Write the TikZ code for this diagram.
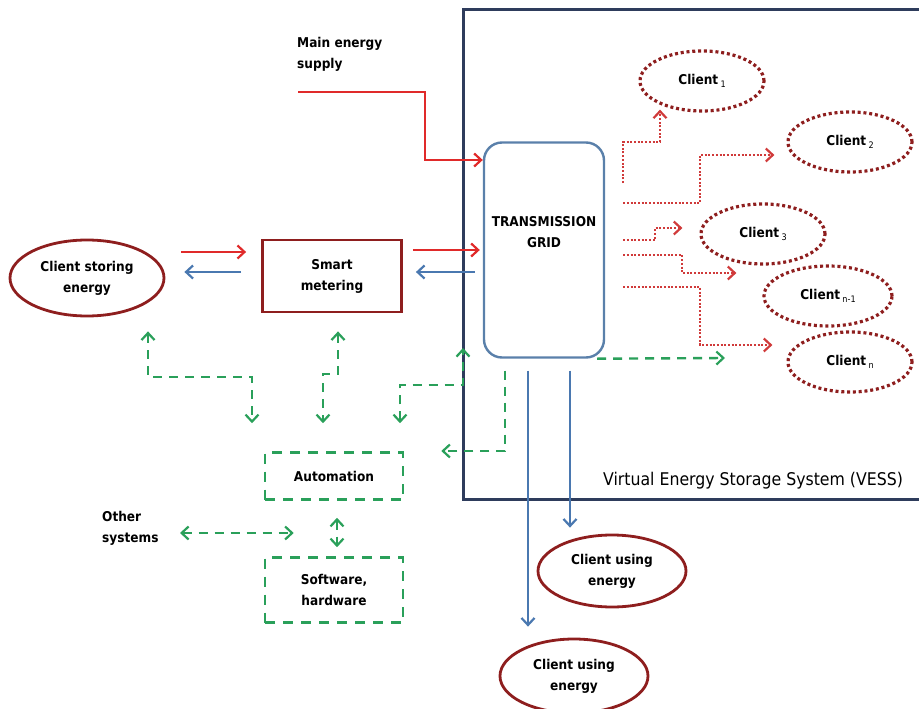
\documentclass[tikz,border=0pt]{standalone}
\usepackage{fontspec}
\setmainfont{DejaVu Sans Condensed}
\usetikzlibrary{arrows.meta,shapes.geometric,calc}
\definecolor{navy}{HTML}{2E3C5C}
\definecolor{gridblue}{HTML}{5A80AA}
\definecolor{rred}{HTML}{E02A2A}
\definecolor{dotred}{HTML}{D03A3A}
\definecolor{bblue}{HTML}{4A78B0}
\definecolor{ggreen}{HTML}{2AA05A}
\definecolor{dred}{HTML}{8E1E1E}
\tikzset{
  lbl/.style={font=\bfseries\fontsize{13.5}{21}\selectfont, align=center, text=black},
  solidell/.style={ellipse, draw=dred, line width=2.8pt, inner sep=0pt, lbl},
  dotell/.style={ellipse, draw=dred, line width=3.2pt, dash pattern=on 3pt off 2.8pt, inner sep=0pt, lbl},
  meterbox/.style={rectangle, draw=dred, line width=2.8pt, inner sep=0pt, lbl},
  gbox/.style={rectangle, draw=ggreen, line width=2.6pt, dash pattern=on 10pt off 8pt, inner sep=0pt, lbl},
  barbtip/.tip={Straight Barb[length=7pt,width=13pt,line width=2.2pt]},
  rarr/.style={draw=rred, line width=2.2pt, -{barbtip}},
  barr/.style={draw=bblue, line width=2.2pt, -{barbtip}},
  dotarr/.style={draw=dotred, line width=2.2pt, dash pattern=on 2pt off 1.7pt, -{barbtip}},
  garr/.style={draw=ggreen, line width=2.4pt, dash pattern=on 9pt off 7pt, -{barbtip}},
  gdbl/.style={draw=ggreen, line width=2.4pt, dash pattern=on 9pt off 7pt, {barbtip}-{barbtip}},
}
\newcommand{\sub}[1]{\,\raisebox{-3pt}{\mdseries\fontsize{9}{9}\selectfont #1}}
\begin{document}
\begin{tikzpicture}[x=1pt,y=-1pt]
\useasboundingbox (0,0) rectangle (919,709);
% VESS frame
\draw[navy, line width=3pt] (935,10) -- (463,10) -- (463,499) -- (935,499);
\node[anchor=base west, inner sep=0pt, font=\fontsize{17.5}{20}\selectfont] (vess) at (603,485) {Virtual Energy Storage System (VESS)};
% grid
\node[rectangle, rounded corners=18pt, draw=gridblue, line width=2.4pt, minimum width=120pt, minimum height=215pt, inner sep=0pt] (grid) at (544,250) {};
\node[lbl] (gridtxt) at (544,232) {TRANSMISSION\\GRID};
% main supply
\node[lbl, anchor=north west, align=left, inner sep=0pt] (main) at (297,37) {Main energy\\supply};
\coordinate (ms) at (298,92);
\draw[rarr] (ms) -| (425,160) -- (grid.west |- 0,160);
% client storing and smart metering
\node[solidell, minimum width=154pt, minimum height=76pt] (storing) at (87,278) {Client storing\\energy};
\node[meterbox, minimum width=139pt, minimum height=72pt] (smart) at (332,276) {Smart\\metering};
\draw[rarr] ([xshift=16pt]storing.east |- 0,252) -- ([xshift=-15pt]smart.west |- 0,252);
\draw[barr] ([xshift=-20pt]smart.west |- 0,272) -- ([xshift=19pt]storing.east |- 0,272);
\draw[rarr] ([xshift=10pt]smart.east |- 0,250) -- ([xshift=-3pt]grid.west |- 0,250);
\draw[barr] ([xshift=-8pt]grid.west |- 0,272) -- ([xshift=13pt]smart.east |- 0,272);
% clients
\node[dotell, minimum width=124pt, minimum height=60pt] (c1) at (702,81) {Client\sub{1}};
\node[dotell, minimum width=124pt, minimum height=60pt] (c2) at (850,142) {Client\sub{2}};
\node[dotell, minimum width=124pt, minimum height=60pt] (c3) at (763,234) {Client\sub{3}};
\node[dotell, minimum width=128pt, minimum height=60pt] (cn1) at (828,296) {Client\sub{n-1}};
\node[dotell, minimum width=124pt, minimum height=60pt] (cn) at (850,362) {Client\sub{n}};
\draw[dotarr] ([xshift=18pt]grid.east |- 0,183) |- (660,142) -- ([yshift=3pt]c1.south -| 660,0);
\draw[dotarr] ([xshift=18pt]grid.east |- 0,203) -| (700,155) -- ([xshift=-12pt]c2.west |- 0,155);
\draw[dotarr] ([xshift=18pt]grid.east |- 0,240) -| (655,228) -- ([xshift=-17pt]c3.west |- 0,228);
\draw[dotarr] ([xshift=18pt]grid.east |- 0,255) -| (682,273) -- ([xshift=-26pt]cn1.west |- 0,273);
\draw[dotarr] ([xshift=18pt]grid.east |- 0,287) -| (700,345) -- ([xshift=-14pt]cn.west |- 0,345);
\draw[garr] ([xshift=-8pt]grid.south east) -- (725,358);
% clients using energy
\node[solidell, minimum width=148pt, minimum height=72pt] (use1) at (612,571) {Client using\\energy};
\node[solidell, minimum width=148pt, minimum height=74pt] (use2) at (574,676) {Client using\\energy};
\draw[barr] ([yshift=-12pt]grid.south -| 528,0) -- ([yshift=11pt]use2.north -| 528,0);
\draw[barr] ([yshift=-12pt]grid.south -| 570,0) -- ([yshift=6pt]use1.north -| 570,0);
% automation
\node[gbox, minimum width=138pt, minimum height=47pt] (auto) at (334,476) {Automation};
\node[gbox, minimum width=138pt, minimum height=65pt] (soft) at (334,590) {Software,\\hardware};
\node[lbl, anchor=north west, align=left, inner sep=0pt] (other) at (102,511) {Other\\systems};
\coordinate (osl) at (180,533);
\draw[garr] ([yshift=-12pt]grid.south -| 505,0) |- ([xshift=37pt]auto.east |- 0,451);
\draw[gdbl] ([yshift=28pt]auto.north -| 400,0) |- (463,385) -- (463,348);
\draw[gdbl] ([yshift=-14pt]storing.south -| 148,0) |- (252,377) -- ([yshift=28pt]auto.north -| 252,0);
\draw[gdbl] ([yshift=-18pt]smart.south -| 338,0) |- (323,374) -- ([yshift=28pt]auto.north -| 323,0);
\draw[gdbl] ([yshift=-17pt]auto.south -| 337,0) -- ([yshift=9pt]soft.north -| 337,0);
\draw[gdbl] (osl) -- ([xshift=30pt]soft.west |- osl);
\end{tikzpicture}
\end{document}
